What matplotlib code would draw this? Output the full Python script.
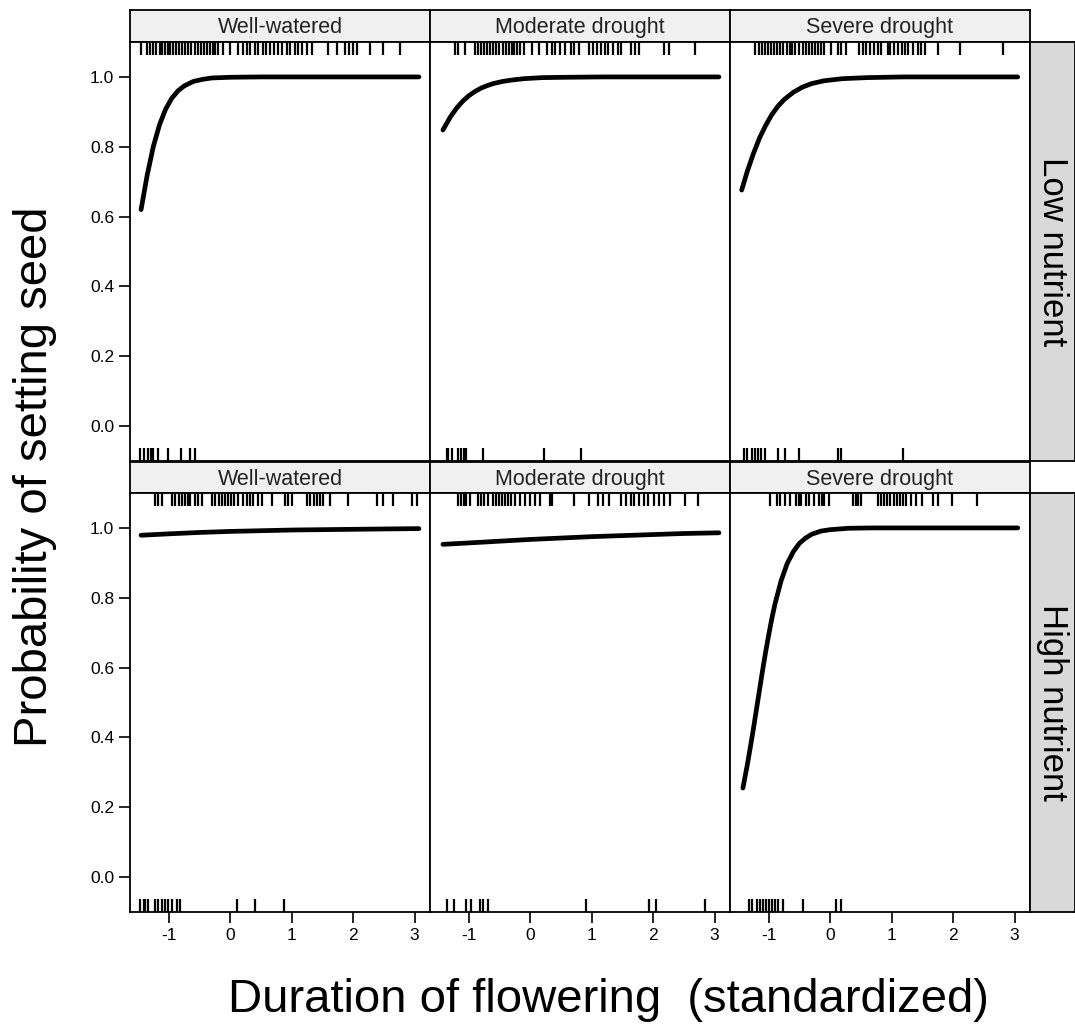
import numpy as np
import matplotlib.pyplot as plt

plt.rcParams['font.family'] = ['Liberation Sans', 'DejaVu Sans']
plt.rcParams['axes.unicode_minus'] = False

water = ['Well-watered', 'Moderate drought', 'Severe drought']
nutrient = ['Low nutrient', 'High nutrient']

# fitted probability curves
low_ww_x = [-1.45, -1.35, -1.25, -1.15, -1.05, -0.95, -0.85, -0.75, -0.6, -0.45, -0.3, 0.0, 0.5, 1.0, 2.0, 3.07]
low_ww_p = [0.620, 0.719, 0.801, 0.863, 0.908, 0.939, 0.960, 0.974, 0.987, 0.993, 0.997, 0.999, 1.0, 1.0, 1.0, 1.0]
low_md_x = [-1.42, -1.3, -1.2, -1.1, -1.0, -0.9, -0.8, -0.7, -0.6, -0.45, -0.3, -0.1, 0.2, 0.6, 1.2, 2.0, 3.07]
low_md_p = [0.848, 0.885, 0.910, 0.930, 0.946, 0.958, 0.968, 0.975, 0.981, 0.987, 0.991, 0.995, 0.998, 0.999, 1.0, 1.0, 1.0]
low_sd_x = [-1.44, -1.35, -1.25, -1.15, -1.05, -0.95, -0.85, -0.75, -0.6, -0.45, -0.3, -0.1, 0.2, 0.6, 1.2, 2.0, 3.05]
low_sd_p = [0.676, 0.729, 0.780, 0.825, 0.861, 0.892, 0.916, 0.935, 0.956, 0.971, 0.981, 0.989, 0.995, 0.998, 1.0, 1.0, 1.0]
high_ww_x = [-1.45, -1.0, -0.5, 0.0, 0.5, 1.0, 1.5, 2.0, 2.5, 3.07]
high_ww_p = [0.979, 0.983, 0.987, 0.990, 0.992, 0.994, 0.995, 0.996, 0.997, 0.998]
high_md_x = [-1.42, -1.0, -0.5, 0.0, 0.5, 1.0, 1.5, 2.0, 2.5, 3.07]
high_md_p = [0.953, 0.957, 0.962, 0.967, 0.971, 0.975, 0.978, 0.981, 0.984, 0.986]
high_sd_x = [-1.42, -1.35, -1.3, -1.25, -1.2, -1.15, -1.1, -1.05, -1.0, -0.95, -0.9, -0.8, -0.7,
             -0.6, -0.5, -0.4, -0.3, -0.15, 0.0, 0.3, 0.7, 1.2, 2.0, 3.05]
high_sd_p = [0.255, 0.320, 0.371, 0.424, 0.480, 0.536, 0.592, 0.645, 0.694, 0.740, 0.781, 0.848, 0.898,
             0.932, 0.956, 0.971, 0.982, 0.991, 0.995, 0.999, 1.0, 1.0, 1.0, 1.0]

# observed flowering durations: set seed (top rug) / no seed (bottom rug)
low_ww_set = [-1.45, -1.35, -1.30, -1.25, -1.20, -1.15, -1.11, -1.06, -1.02, -0.98, -0.93, -0.88, -0.83,
              -0.78, -0.73, -0.68, -0.63, -0.58, -0.53, -0.48, -0.43, -0.38, -0.33, -0.28, -0.24, -0.20,
              -0.11, 0.0, 0.13, 0.21, 0.28, 0.33, 0.41, 0.46, 0.54, 0.59, 0.65, 0.72, 0.78, 0.85, 0.93,
              0.98, 1.06, 1.11, 1.17, 1.25, 1.33, 1.59, 1.74, 1.87, 1.93, 2.0, 2.07, 2.28, 2.49, 2.76]
low_ww_fail = [-1.46, -1.41, -1.33, -1.29, -1.25, -1.17, -1.02, -0.80, -0.65, -0.57]
low_md_set = [-1.22, -1.17, -1.06, -0.90, -0.85, -0.80, -0.75, -0.70, -0.65, -0.60, -0.55, -0.50, -0.45,
              -0.40, -0.35, -0.30, -0.26, -0.21, -0.16, -0.10, 0.03, 0.14, 0.27, 0.35, 0.40, 0.48, 0.56,
              0.67, 0.72, 0.80, 0.95, 1.02, 1.09, 1.15, 1.21, 1.27, 1.35, 1.43, 1.48, 1.64, 1.70, 1.77,
              2.17, 2.25, 2.68]
low_md_fail = [-1.36, -1.33, -1.28, -1.17, -1.12, -1.07, -1.04, -0.77, 0.22, 0.82]
low_sd_set = [-1.23, -1.16, -1.11, -1.06, -1.01, -0.96, -0.91, -0.86, -0.81, -0.76, -0.71, -0.66, -0.62,
              -0.58, -0.50, -0.45, -0.40, -0.35, -0.30, -0.25, -0.20, -0.15, -0.10, 0.02, 0.13, 0.18,
              0.26, 0.47, 0.53, 0.59, 0.65, 0.71, 0.77, 0.82, 0.94, 0.98, 1.04, 1.10, 1.16, 1.22, 1.27,
              1.34, 1.42, 1.47, 1.55, 1.76, 2.11, 2.81]
low_sd_fail = [-1.40, -1.35, -1.27, -1.22, -1.17, -1.12, -1.06, -0.85, -0.74, -0.50, 0.13, 0.18, 1.18]
high_ww_set = [-1.22, -1.17, -1.11, -0.94, -0.89, -0.84, -0.79, -0.74, -0.69, -0.65, -0.57, -0.52, -0.46,
               -0.29, -0.24, -0.19, -0.14, -0.09, -0.04, 0.01, 0.06, 0.13, 0.20, 0.28, 0.33, 0.37, 0.46,
               0.52, 0.68, 0.89, 0.94, 1.01, 1.25, 1.30, 1.36, 1.41, 1.46, 1.51, 1.63, 1.92, 2.39, 2.49,
               2.65, 2.96, 3.04]
high_ww_fail = [-1.46, -1.41, -1.38, -1.33, -1.22, -1.17, -1.11, -1.06, -1.01, -0.94, -0.86, -0.81,
                0.11, 0.41, 0.88]
high_md_set = [-1.17, -1.12, -1.08, -1.04, -0.98, -0.85, -0.80, -0.75, -0.69, -0.61, -0.56, -0.51, -0.46,
               -0.41, -0.36, -0.31, -0.24, -0.16, -0.08, 0.0, 0.08, 0.16, 0.32, 0.35, 0.71, 0.96, 1.11,
               1.19, 1.28, 1.48, 1.56, 1.64, 1.69, 1.77, 1.85, 1.91, 2.01, 2.09, 2.17, 2.28, 2.52, 2.73]
high_md_fail = [-1.36, -1.24, -1.04, -0.96, -0.82, -0.77, -0.69, 0.90, 1.93, 2.04, 2.84]
high_sd_set = [-0.98, -0.87, -0.81, -0.74, -0.66, -0.55, -0.51, -0.47, -0.40, -0.35, -0.27, -0.18, -0.14,
               -0.10, -0.02, 0.37, 0.42, 0.45, 0.50, 0.77, 0.82, 0.87, 0.93, 0.98, 1.03, 1.08, 1.13,
               1.18, 1.23, 1.31, 1.39, 1.50, 1.68, 1.76, 1.98, 2.39]
high_sd_fail = [-1.32, -1.27, -1.19, -1.15, -1.10, -1.05, -1.00, -0.95, -0.90, -0.85, -0.76, -0.45,
                0.10, 0.18]

curves = [[(low_ww_x, low_ww_p), (low_md_x, low_md_p), (low_sd_x, low_sd_p)],
          [(high_ww_x, high_ww_p), (high_md_x, high_md_p), (high_sd_x, high_sd_p)]]
rugs = [[(low_ww_set, low_ww_fail), (low_md_set, low_md_fail), (low_sd_set, low_sd_fail)],
        [(high_ww_set, high_ww_fail), (high_md_set, high_md_fail), (high_sd_set, high_sd_fail)]]

W, H = 1075, 1032
fig = plt.figure(figsize=(W / 100, H / 100), dpi=100)

def box(x0, y0, x1, y1):
    return fig.add_axes([x0 / W, 1 - y1 / H, (x1 - x0) / W, (y1 - y0) / H])

cols = [(130, 430), (430, 730), (730, 1030)]
rows = [(10, 42, 461), (462, 493, 912)]

for r, (s0, p0, p1) in enumerate(rows):
    for c, (x0, x1) in enumerate(cols):
        # strip above panel
        st = box(x0, s0, x1, p0)
        st.set_facecolor('#f0f0f0')
        st.set_xticks([])
        st.set_yticks([])
        for sp in st.spines.values():
            sp.set_linewidth(1.3)
        st.text(0.5, 0.45, water[c], ha='center', va='center', fontsize=15.5, color='#222222',
                transform=st.transAxes)

        ax = box(x0, p0, x1, p1)
        ax.set_xlim(-1.63, 3.25)
        ax.set_ylim(-0.1, 1.1)
        for sp in ax.spines.values():
            sp.set_linewidth(1.3)
        xs, ps = curves[r][c]
        ax.plot(xs, ps, color='black', lw=3.4, solid_capstyle='round', solid_joinstyle='round')
        top, bot = rugs[r][c]
        tr = ax.get_xaxis_transform()
        ax.vlines(top, 0.97, 1.0, transform=tr, color='black', lw=1.6)
        ax.vlines(bot, 0.0, 0.032, transform=tr, color='black', lw=1.6)

        ax.tick_params(direction='out', length=8, width=1.2, labelsize=12.5, colors='black')
        if c == 0:
            ax.set_yticks([0.0, 0.2, 0.4, 0.6, 0.8, 1.0])
            ax.set_yticklabels(['0.0', '0.2', '0.4', '0.6', '0.8', '1.0'])
        else:
            ax.set_yticks([])
        if r == 1:
            ax.set_xticks([-1, 0, 1, 2, 3])
        else:
            ax.set_xticks([])

    # nutrient strip on the right
    rs = box(1030, p0, 1075, p1)
    rs.set_facecolor('#d9d9d9')
    rs.set_xticks([])
    rs.set_yticks([])
    for sp in rs.spines.values():
        sp.set_linewidth(1.3)
    rs.text(0.5, 0.5, nutrient[r], rotation=-90, ha='center', va='center', fontsize=25,
            transform=rs.transAxes)

fig.text(35 / W, 1 - 477 / H, 'Probability of setting seed', rotation=90, ha='center', va='center',
         fontsize=34)
fig.text(608 / W, 1 - 1000 / H, 'Duration of flowering  (standardized)', ha='center', va='center',
         fontsize=34)

fig.savefig('out.png', dpi=100)
